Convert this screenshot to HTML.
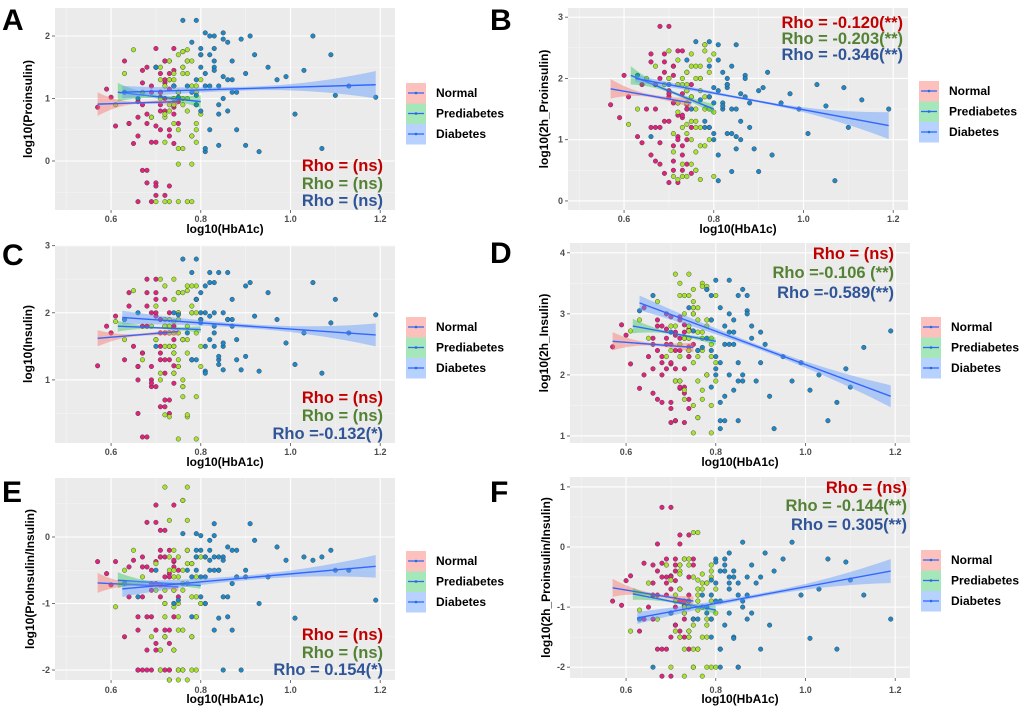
<!DOCTYPE html>
<html><head><meta charset="utf-8">
<style>
html,body{margin:0;padding:0;background:#fff;}
svg{display:block;font-family:"Liberation Sans",Arial,sans-serif;}
.tick{font-size:9px;fill:#4d4d4d;font-weight:bold;}
.atitle{font-size:12px;font-weight:bold;fill:#000;}
.leg{font-size:12px;font-weight:bold;fill:#000;}
.rho{font-size:16.5px;font-weight:bold;}
.letter{font-size:30px;font-weight:bold;fill:#000;}
</style></head>
<body>
<svg id="fig" width="1020" height="711" viewBox="0 0 1020 711"></svg>
<script>
// ---- shared HbA1c (x) values per group ----
const xNormal=[0.57,0.59,0.60,0.61,0.63,0.64,0.65,0.66,0.66,0.67,0.67,0.68,0.68,0.69,0.69,0.70,0.70,0.70,0.71,0.71,0.71,0.72,0.72,0.72,0.73,0.73,0.73,0.74,0.74,0.74,0.75,0.75];
const xPre=[0.61,0.63,0.65,0.67,0.69,0.70,0.71,0.72,0.72,0.73,0.73,0.74,0.74,0.75,0.75,0.75,0.76,0.76,0.76,0.77,0.77,0.77,0.78,0.78,0.78,0.79,0.79,0.79,0.80,0.80,0.74,0.76];
const xDiab=[0.63,0.66,0.70,0.74,0.76,0.78,0.79,0.80,0.81,0.82,0.83,0.84,0.85,0.86,0.87,0.88,0.89,0.90,0.91,0.92,0.93,0.95,0.97,0.99,1.01,1.03,1.05,1.07,1.09,1.10,1.13,1.19];
// second set of subjects (paired with y values in reverse order)
const xNormal2=[0.64,0.66,0.67,0.68,0.69,0.70,0.71,0.72,0.73,0.74,0.70,0.71,0.72,0.73,0.68,0.69,0.74,0.75,0.66,0.67,0.70,0.71,0.72,0.73,0.69,0.74,0.68,0.72,0.70,0.71,0.73,0.74];
const xPre2=[0.70,0.71,0.72,0.73,0.74,0.75,0.76,0.77,0.78,0.79,0.72,0.73,0.74,0.75,0.76,0.77,0.78,0.79,0.80,0.71,0.73,0.75,0.77,0.79,0.74,0.76,0.78,0.72,0.75,0.77,0.76,0.74];
const xDiab2=[0.75,0.77,0.79,0.80,0.81,0.82,0.83,0.84,0.85,0.86,0.80,0.81,0.82,0.83,0.84,0.85,0.78,0.79,0.80,0.81,0.82,0.87,0.88,0.90,0.83,0.84,0.86,0.79,0.81,0.83,0.85,0.87];
const xTicks=[0.6,0.8,1.0,1.2];
// ---- panel y values ----
const yA_N=[0.86,1.15,1.02,0.56,1.6,0.6,0.28,-0.65,0.4,1.25,0.9,1.5,-0.15,0.7,1.1,1.8,0.3,-0.35,1.4,0.8,1.1,-0.55,1.0,1.6,1.3,0.5,-0.4,1.2,0.75,1.45,0.95,0.6];
const yA_P=[0.9,1.4,1.78,1.1,0.7,-0.65,1.5,1.2,0.3,1.6,-0.65,0.9,1.3,1.7,0.5,-0.05,1.0,1.75,0.2,1.4,0.8,-0.65,1.2,0.4,1.6,0.9,1.1,0.6,1.3,0.75,1.0,1.5];
const yA_D=[1.1,1.0,1.5,1.2,2.25,1.9,0.9,1.8,1.4,0.5,1.6,1.2,2.05,0.8,1.3,1.1,1.95,0.25,2.0,1.7,0.15,1.5,1.3,1.35,0.75,1.45,2.0,0.2,1.7,1.05,1.2,1.02];
const yB_N=[1.57,1.36,2.05,1.7,1.05,0.95,1.5,2.27,0.75,1.9,0.65,2.85,1.2,2.4,0.45,1.8,1.3,2.0,0.5,1.6,2.2,0.3,1.0,2.45,1.4,0.9,1.75,2.1,0.6,1.5,1.2,1.9];
const yB_P=[1.25,1.5,2.0,2.2,1.9,2.45,0.8,1.6,2.3,1.2,0.6,1.9,0.4,2.4,1.0,1.7,2.2,0.5,1.3,1.8,2.0,0.35,1.5,2.55,0.9,1.2,1.7,2.1,0.4,1.45,1.1,2.0];
const yB_D=[2.05,1.05,1.9,2.3,2.6,1.3,2.2,1.1,1.8,1.6,2.0,1.5,2.55,1.0,1.7,1.2,0.85,0.48,1.85,2.1,0.75,1.6,1.75,1.5,1.1,1.9,1.55,0.33,1.85,1.2,1.65,1.5];
const yC_N=[1.21,1.8,1.7,1.95,1.3,2.1,1.5,1.2,0.5,1.8,1.4,2.3,0.15,1.0,2.0,1.6,0.9,2.5,1.3,0.6,1.9,2.2,1.1,1.7,0.7,1.5,2.0,0.95,1.8,1.4,1.2,2.3];
const yC_P=[1.87,1.6,2.33,1.3,1.8,2.1,1.0,1.5,2.4,0.45,1.9,1.7,2.5,1.2,0.12,2.0,1.6,0.9,2.3,1.4,1.8,0.48,2.0,1.3,2.4,0.75,1.7,2.2,1.5,1.9,1.1,1.6];
const yC_D=[1.9,2.0,1.5,2.0,2.8,2.6,1.3,2.0,2.4,1.6,1.8,2.6,1.5,1.9,2.2,1.3,1.15,1.35,2.45,1.95,1.13,2.3,1.9,1.55,1.23,1.7,2.45,1.1,1.85,2.2,1.7,1.97];
const yD_N=[2.46,2.82,2.65,2.18,1.78,2.0,2.3,2.6,1.7,2.9,2.4,1.55,2.8,2.1,3.0,1.45,2.5,2.2,2.7,1.9,1.25,2.95,2.4,1.8,2.6,2.1,1.22,2.75,2.3,1.6,2.5,3.1];
const yD_P=[2.72,2.9,2.6,3.2,2.3,2.8,1.9,3.3,2.5,1.75,3.0,2.6,3.65,2.2,1.5,3.4,2.7,1.3,3.1,2.4,1.6,3.5,2.9,2.0,3.45,2.3,1.05,2.6,3.3,1.9,2.8,2.4];
const yD_D=[3.05,3.3,2.7,3.1,2.4,3.4,2.9,3.55,2.2,2.8,3.0,2.5,1.25,2.0,3.3,2.6,1.9,2.7,2.5,1.65,1.12,2.3,1.9,2.2,1.75,2.0,1.25,1.55,2.1,1.8,2.45,2.72];
const yE_N=[-0.37,-0.55,-0.72,-0.37,-1.5,-0.45,-0.35,-2.0,-1.4,-0.3,-0.9,0.22,-2.0,-1.2,-0.5,0.48,-0.7,-1.7,-2.0,0.1,-0.3,-1.4,-1.0,-0.6,-2.0,-0.2,-1.6,-0.8,-1.2,-0.45,-2.0,-0.9];
const yE_P=[-1.05,-0.5,-0.2,-0.6,-1.5,-0.4,-2.0,-0.8,-1.2,0.25,-2.15,-0.5,-1.7,-1.0,-0.3,-2.0,-0.7,0.55,-1.4,-0.2,-2.15,0.75,-0.9,-1.5,-0.4,-2.0,-1.2,-0.6,-0.3,-1.0,-1.7,-0.8];
const yE_D=[-0.7,-0.9,-0.5,-1.0,0.05,-1.2,-0.3,0.02,-0.6,-0.2,-1.4,-0.5,-0.3,-0.9,-0.2,-0.6,-2.0,-0.5,0.2,-0.05,-1.0,-0.6,-0.15,-0.35,-1.22,-0.3,-0.35,-0.3,-0.2,-0.5,-0.5,-0.95];
const yF_N=[-0.9,-0.97,-0.56,-0.48,-1.4,-0.27,-1.0,-0.6,-1.2,0.05,-0.4,0.66,-1.7,-0.8,-0.2,-1.5,-0.5,-2.15,-1.0,-0.3,-1.3,-0.7,0.2,-1.5,-0.9,-0.2,-1.1,-1.7,-0.5,-0.8,-0.3,-1.2];
const yF_P=[-1.4,-1.05,-0.6,-1.2,-0.3,-2.0,-0.8,-1.5,-0.4,-1.0,-1.7,-0.2,-0.9,-2.0,-0.5,-1.3,-0.7,-1.7,0.24,-1.0,-2.15,-0.45,-1.2,-0.6,-1.5,-0.9,-2.0,-0.3,-1.1,-0.7,-1.4,-0.55];
const yF_D=[-1.2,-2.0,-1.1,-0.9,-1.2,-1.0,-1.5,-0.6,-1.7,-0.3,-0.5,-0.4,-2.0,-0.9,-0.8,-1.1,-0.6,-0.5,-0.1,-1.3,-0.4,-0.2,0.08,-0.8,-1.52,-0.7,-0.2,-1.7,-0.25,-0.55,-0.8,-1.2];
// ---- regression fits per panel: [x0,x1,y0,y1,halfLeft,halfRight] ----
const fitA=[[0.57,0.75,0.91,0.95,0.19,0.06],[0.615,0.80,1.10,0.95,0.15,0.10],[0.625,1.19,1.10,1.22,0.10,0.22]];
const fitB=[[0.57,0.75,1.83,1.60,0.16,0.08],[0.615,0.80,2.05,1.50,0.15,0.08],[0.625,1.19,2.00,1.23,0.06,0.22]];
const fitC=[[0.57,0.75,1.62,1.72,0.12,0.06],[0.615,0.80,1.80,1.75,0.08,0.05],[0.625,1.19,1.93,1.67,0.10,0.17]];
const fitD=[[0.57,0.75,2.55,2.45,0.15,0.08],[0.615,0.80,2.80,2.55,0.12,0.06],[0.63,1.19,3.18,1.65,0.12,0.18]];
const fitE=[[0.57,0.75,-0.69,-0.75,0.15,0.06],[0.615,0.80,-0.65,-0.73,0.12,0.05],[0.625,1.19,-0.78,-0.44,0.12,0.17]];
const fitF=[[0.57,0.75,-0.68,-0.90,0.15,0.08],[0.615,0.80,-0.78,-1.05,0.10,0.07],[0.625,1.19,-1.18,-0.40,0.10,0.20]];
const yTicksA=[0,1,2], yTicksB=[0,1,2,3], yTicksC=[1,2,3], yTicksD=[1,2,3,4], yTicksE=[-2,-1,0], yTicksF=[-2,-1,0,1];
const rhoA=["Rho = (ns)","Rho = (ns)","Rho = (ns)"];
const rhoB=["Rho = -0.120(**)","Rho = -0.203(**)","Rho = -0.346(**)"];
const rhoC=["Rho = (ns)","Rho = (ns)","Rho =-0.132(*)"];
const rhoD=["Rho = (ns)","Rho =-0.106 (**)","Rho =-0.589(**)"];
const rhoE=["Rho = (ns)","Rho = (ns)","Rho = 0.154(*)"];
const rhoF=["Rho = (ns)","Rho = -0.144(**)","Rho = 0.305(**)"];

const NS="http://www.w3.org/2000/svg";
const svg=document.getElementById('fig');
function mk(tag,attrs,parent){const e=document.createElementNS(NS,tag);for(const k in attrs)e.setAttribute(k,attrs[k]);(parent||svg).appendChild(e);return e;}

const panels=[
 {id:'a',L:'A',lx:2,ly:30,left:55,top:8,bottom:210,ymin:-0.784,ymax:2.448,yt:yTicksA,ys:[yA_N,yA_P,yA_D],fit:fitA,rho:rhoA,rx:383,ry:[171,189,206],legY:83,title:'log10(Proinsulin)',tx:32,xt:219,xtt:233},
 {id:'b',L:'B',lx:490,ly:30,left:568,top:8,bottom:210,ymin:-0.148,ymax:3.15,yt:yTicksB,ys:[yB_N,yB_P,yB_D],fit:fitB,rho:rhoB,rx:903,ry:[28,44,60],legY:81,title:'log10(2h_Proinsulin)',tx:548,xt:219,xtt:233},
 {id:'c',L:'C',lx:2,ly:265,left:55,top:245,bottom:443,ymin:0.06,ymax:3.01,yt:yTicksC,ys:[yC_N,yC_P,yC_D],fit:fitC,rho:rhoC,rx:383,ry:[403,421,439],legY:317,title:'log10(Insulin)',tx:32,xt:452,xtt:466},
 {id:'d',L:'D',lx:490,ly:263,left:570,top:243,bottom:443,ymin:0.885,ymax:4.16,yt:yTicksD,ys:[yD_N,yD_P,yD_D],fit:fitD,rho:rhoD,rx:894,ry:[259,278,298],legY:317,title:'log10(2h_Insulin)',tx:548,xt:452,xtt:466},
 {id:'e',L:'E',lx:2,ly:502,left:55,top:478,bottom:680,ymin:-2.15,ymax:0.887,yt:yTicksE,ys:[yE_N,yE_P,yE_D],fit:fitE,rho:rhoE,rx:383,ry:[640,658,675],legY:551,title:'log10(ProInsulin/Insulin)',tx:34,xt:690,xtt:703},
 {id:'f',L:'F',lx:490,ly:502,left:570,top:477,bottom:678,ymin:-2.18,ymax:1.165,yt:yTicksF,ys:[yF_N,yF_P,yF_D],fit:fitF,rho:rhoF,rx:907,ry:[493,511,530],legY:550,title:'log10(2h_Proinsulin/Insulin)',tx:550,xt:690,xtt:703}
];
const xs=[xNormal,xPre,xDiab];
const xs2=[xNormal2,xPre2,xDiab2];
const ptFill=['#e0237c','#a6e22e','#1e88c8'];
const bandFill=['rgba(248,118,109,0.45)','rgba(0,186,56,0.35)','rgba(97,156,255,0.45)'];
const rhoCol=['#c00000','#548235','#2f5597'];
const groups=['normal','prediabetes','diabetes'];
const legLab=['Normal','Prediabetes','Diabetes'];
const XMIN=0.475,XMAX=1.233,W=340;

panels.forEach(p=>{
  const g=mk('g',{});
  
  
  const sx=v=>p.left+(v-XMIN)/(XMAX-XMIN)*W;
  const sy=v=>p.bottom-(v-p.ymin)/(p.ymax-p.ymin)*(p.bottom-p.top);
  const lt=mk('text',{x:p.lx,y:p.ly,class:'letter'},g);lt.textContent=p.L;
  
  
  const bg=mk('rect',{x:p.left,y:p.top,width:W,height:p.bottom-p.top,fill:'#ebebeb'},g);
  
  
  for(let v=0.5;v<=1.15;v+=0.2){mk('line',{x1:sx(v),x2:sx(v),y1:p.top,y2:p.bottom,stroke:'#f5f5f5','stroke-width':0.6},g);}
  for(let i=0;i<p.yt.length+1;i++){const v=p.yt[0]-0.5+i;if(v>p.ymin&&v<p.ymax)mk('line',{x1:p.left,x2:p.left+W,y1:sy(v),y2:sy(v),stroke:'#f5f5f5','stroke-width':0.6},g);}
  xTicks.forEach(v=>{
    mk('line',{x1:sx(v),x2:sx(v),y1:p.top,y2:p.bottom,stroke:'#fff','stroke-width':1.1},g);
    mk('line',{x1:sx(v),x2:sx(v),y1:p.bottom,y2:p.bottom+3,stroke:'#4d4d4d','stroke-width':0.8},g);
    const t=mk('text',{x:sx(v),y:p.xt+3,class:'tick','text-anchor':'middle'},g);t.textContent=v.toFixed(1);
    
    
  });
  p.yt.forEach(v=>{
    mk('line',{x1:p.left,x2:p.left+W,y1:sy(v),y2:sy(v),stroke:'#fff','stroke-width':1.1},g);
    mk('line',{x1:p.left-3,x2:p.left,y1:sy(v),y2:sy(v),stroke:'#4d4d4d','stroke-width':0.8},g);
    const t=mk('text',{x:p.left-5,y:sy(v)+3,class:'tick','text-anchor':'end'},g);t.textContent=String(v);
    
    
  });
  for(let k=0;k<3;k++){
    const ys=p.ys[k];const n=ys.length;
    for(let i=0;i<n;i++){
      const c=mk('circle',{cx:sx(xs[k][i]),cy:sy(ys[i]),r:2.3,fill:ptFill[k],stroke:'#333','stroke-width':0.4},g);
      
      
      const c2=mk('circle',{cx:sx(xs2[k][n-1-i]),cy:sy(ys[i]),r:2.3,fill:ptFill[k],stroke:'#333','stroke-width':0.4},g);
      
      
    }
  }
  for(let k=0;k<3;k++){
    const f=p.fit[k];const up=[],dn=[];const N=24;
    for(let j=0;j<=N;j++){const t=j/N;const x=f[0]+(f[1]-f[0])*t;const y=f[2]+(f[3]-f[2])*t;
      const hmin=Math.min(f[4],f[5])*0.3;const h=t<0.5?hmin+(f[4]-hmin)*Math.pow(1-2*t,2):hmin+(f[5]-hmin)*Math.pow(2*t-1,2);
      up.push(sx(x)+','+sy(y+h));dn.unshift(sx(x)+','+sy(y-h));}
    const b=mk('polygon',{points:up.concat(dn).join(' '),fill:bandFill[k]},g);
    
    
    const l=mk('line',{x1:sx(f[0]),y1:sy(f[2]),x2:sx(f[1]),y2:sy(f[3]),stroke:'#3366ff','stroke-width':1.4},g);
    
    
  }
  for(let k=0;k<3;k++){
    const t=mk('text',{x:p.rx,y:p.ry[k],class:'rho','text-anchor':'end',fill:rhoCol[k]},g);t.textContent=p.rho[k];
    
    
  }
  const xt=mk('text',{x:p.left+W/2,y:p.xtt,class:'atitle','text-anchor':'middle'},g);xt.textContent='log10(HbA1c)';
  
  
  const yy=(p.top+p.bottom)/2;
  const ytt=mk('text',{x:p.tx,y:yy,class:'atitle','text-anchor':'middle',transform:'rotate(-90 '+p.tx+' '+yy+')'},g);ytt.textContent=p.title;
  
  
  const lx=p.left+W+11;
  for(let k=0;k<3;k++){
    const y0=p.legY+k*20.5;
    const lg=mk('g',{},g);
    
    
    mk('rect',{x:lx,y:y0,width:20,height:20.5,fill:bandFill[k]},lg);
    mk('line',{x1:lx+2,x2:lx+18,y1:y0+10,y2:y0+10,stroke:'#3366ff','stroke-width':1.3},lg);
    mk('circle',{cx:lx+10,cy:y0+10,r:1.3,fill:'#1e6fd0'},lg);
    const t=mk('text',{x:lx+30,y:y0+14,class:'leg'},lg);t.textContent=legLab[k];
  }
});
</script>
</body></html>
